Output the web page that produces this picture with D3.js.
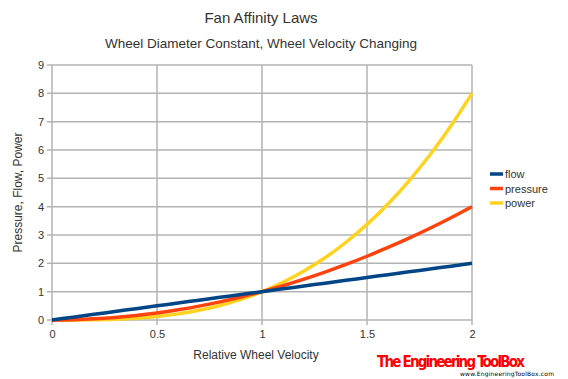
<!DOCTYPE html>
<html>
<head>
<meta charset="utf-8">
<script src="https://cdn.jsdelivr.net/npm/d3@7"></script>
<style>
  body { margin: 0; background: #fff; }
  text { font-family: "Liberation Sans", Arial, sans-serif; fill: #333; }
</style>
</head>
<body>
<div id="chart"></div>
<script>
var svgWidth = 568;
var svgHeight = 379;

var margin = { top: 65, right: 96, bottom: 59, left: 52 };
var width = svgWidth - margin.left - margin.right;
var height = svgHeight - margin.top - margin.bottom;

// chart data
var velocity = [0, 0.1, 0.2, 0.3, 0.4, 0.5, 0.6, 0.7, 0.8, 0.9, 1.0,
                1.1, 1.2, 1.3, 1.4, 1.5, 1.6, 1.7, 1.8, 1.9, 2.0];
var flow = [0, 0.1, 0.2, 0.3, 0.4, 0.5, 0.6, 0.7, 0.8, 0.9, 1.0,
            1.1, 1.2, 1.3, 1.4, 1.5, 1.6, 1.7, 1.8, 1.9, 2.0];
var pressure = [0, 0.01, 0.04, 0.09, 0.16, 0.25, 0.36, 0.49, 0.64, 0.81, 1.0,
                1.21, 1.44, 1.69, 1.96, 2.25, 2.56, 2.89, 3.24, 3.61, 4.0];
var power = [0, 0.001, 0.008, 0.027, 0.064, 0.125, 0.216, 0.343, 0.512, 0.729, 1.0,
             1.331, 1.728, 2.197, 2.744, 3.375, 4.096, 4.913, 5.832, 6.859, 8.0];
var seriesNames = ["flow", "pressure", "power"];
var seriesColors = ["#004586", "#ff420e", "#ffd320"];
var xTicks = [0, 0.5, 1, 1.5, 2];
var yTicks = [0, 1, 2, 3, 4, 5, 6, 7, 8, 9];

var svg = d3.select("#chart")
  .append("svg")
  .attr("width", svgWidth)
  .attr("height", svgHeight);

var chartGroup = svg.append("g")
  .attr("transform", `translate(${margin.left}, ${margin.top})`);

var xScale = d3.scaleLinear().domain([0, 2]).range([0, width]);
var yScale = d3.scaleLinear().domain([0, 9]).range([height, 0]);

// grid lines
chartGroup.selectAll(".hgrid")
  .data(yTicks)
  .enter()
  .append("line")
  .attr("x1", -5)
  .attr("x2", width)
  .attr("y1", d => yScale(d))
  .attr("y2", d => yScale(d))
  .attr("stroke", "#b3b3b3")
  .attr("stroke-width", 1.5);

chartGroup.selectAll(".vgrid")
  .data(xTicks)
  .enter()
  .append("line")
  .attr("x1", d => xScale(d))
  .attr("x2", d => xScale(d))
  .attr("y1", 0)
  .attr("y2", height + 5)
  .attr("stroke", "#b3b3b3")
  .attr("stroke-width", 1.5);

// axes (labels only, lines drawn above)
var bottomAxis = d3.axisBottom(xScale).tickValues(xTicks).tickSize(0).tickPadding(10)
  .tickFormat(d => String(d));
var leftAxis = d3.axisLeft(yScale).tickValues(yTicks).tickSize(0).tickPadding(8);

var xAxis = chartGroup.append("g")
  .attr("transform", `translate(0, ${height})`)
  .call(bottomAxis);
var yAxis = chartGroup.append("g").call(leftAxis);

[xAxis, yAxis].forEach(function(ax) {
  ax.select(".domain").remove();
  ax.selectAll("text")
    .style("font-family", "'Liberation Sans', Arial, sans-serif")
    .style("font-size", "11px")
    .attr("fill", "#333");
});

// series lines
var line = d3.line()
  .x((d, i) => xScale(velocity[i]))
  .y(d => yScale(d))
  .curve(d3.curveMonotoneX);

chartGroup.selectAll(".series")
  .data([power, pressure, flow])
  .enter()
  .append("path")
  .attr("d", d => line(d))
  .attr("fill", "none")
  .attr("stroke", (d, i) => seriesColors[2 - i])
  .attr("stroke-width", 3.5);

// titles
svg.append("text")
  .attr("x", 261)
  .attr("y", 23)
  .attr("text-anchor", "middle")
  .style("font-size", "15px")
  .text("Fan Affinity Laws");

svg.append("text")
  .attr("x", 261)
  .attr("y", 48)
  .attr("text-anchor", "middle")
  .style("font-size", "13.5px")
  .text("Wheel Diameter Constant, Wheel Velocity Changing");

// axis titles
svg.append("text")
  .attr("x", 256)
  .attr("y", 359)
  .attr("text-anchor", "middle")
  .style("font-size", "12px")
  .text("Relative Wheel Velocity");

svg.append("text")
  .attr("transform", `translate(22, ${margin.top + height / 2}) rotate(-90)`)
  .attr("text-anchor", "middle")
  .style("font-size", "12px")
  .text("Pressure, Flow, Power");

// legend
var legend = svg.append("g").attr("transform", "translate(490, 174)");
seriesNames.forEach(function(name, i) {
  legend.append("line")
    .attr("x1", 0).attr("x2", 13)
    .attr("y1", i * 14.5).attr("y2", i * 14.5)
    .attr("stroke", seriesColors[i])
    .attr("stroke-width", 3.5);
  legend.append("text")
    .attr("x", 15)
    .attr("y", i * 14.5 + 4)
    .style("font-size", "11px")
    .text(name);
});

// watermark
svg.append("text")
  .attr("x", 377)
  .attr("y", 367)
  .style("font-family", "'DejaVu Sans Condensed', 'DejaVu Sans', sans-serif")
  .style("font-weight", "bold")
  .style("font-size", "15px")
  .style("fill", "#ff0000")
  .attr("textLength", 148)
  .text("The Engineering ToolBox");

svg.append("text")
  .attr("x", 460)
  .attr("y", 376)
  .style("font-family", "'DejaVu Sans', sans-serif")
  .style("font-size", "6px")
  .style("fill", "#000")
  .attr("textLength", 94)
  .text("www.EngineeringToolBox.com");
</script>
</body>
</html>
